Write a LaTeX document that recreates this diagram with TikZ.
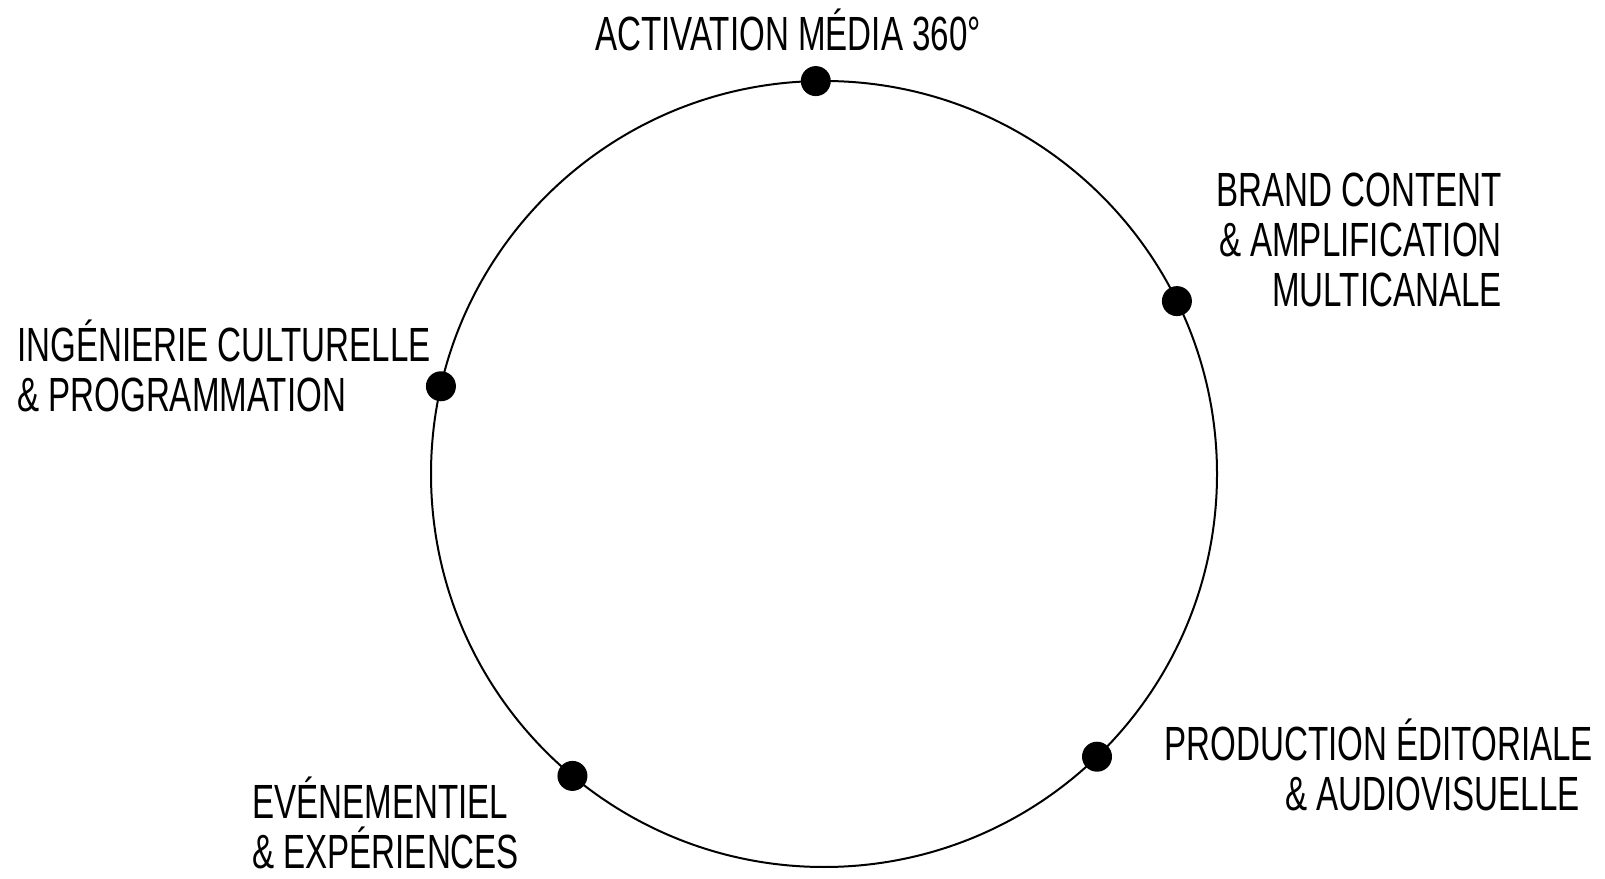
\documentclass[tikz,border=0pt]{standalone}
\usepackage{fontspec}
\setmainfont{Liberation Sans}[FakeStretch=0.69]
\usepackage{tikz}
\usetikzlibrary{positioning,calc}

\tikzset{
  pole/.style={circle,fill=black,inner sep=0pt,minimum size=30pt},
  label text/.style={inner sep=0pt,font=\fontsize{48}{50}\selectfont},
}

\begin{document}
\begin{tikzpicture}[x=1pt,y=1pt]

\useasboundingbox (0,0) rectangle (1605,878); %cadre

\coordinate (c) at (824,404); %centre
\draw[line width=2pt] (c) circle (393);

% points sur le cercle
\node[pole] (media) at ($(c)+(91.2:393)$) {};
\node[pole] (brand) at ($(c)+(26.1:393)$) {};
\node[pole] (culture) at ($(c)+(167.1:393)$) {};
\node[pole] (prod) at ($(c)+(-46:393)$) {};
\node[pole] (event) at ($(c)+(-129.8:393)$) {};

% textes
\node[label text,anchor=base] (tmedia) at (788,827) {ACTIVATION MÉDIA 360°};
\node[label text,anchor=base east,align=right] (tbrand) at (1502,571) {BRAND CONTENT\\\& AMPLIFICATION\\MULTICANALE};
\node[label text,anchor=base west,align=left] (tculture) at (17,466) {INGÉNIERIE CULTURELLE\\\& PROGRAMMATION};
\node[label text,anchor=base east,align=right] (tprod) at (1593,68) {PRODUCTION ÉDITORIALE\\\& AUDIOVISUELLE\hspace*{13pt}};
\node[label text,anchor=base west,align=left] (tevent) at (252,10) {EVÉNEMENTIEL\\\& EXPÉRIENCES};

\end{tikzpicture}
\end{document}
